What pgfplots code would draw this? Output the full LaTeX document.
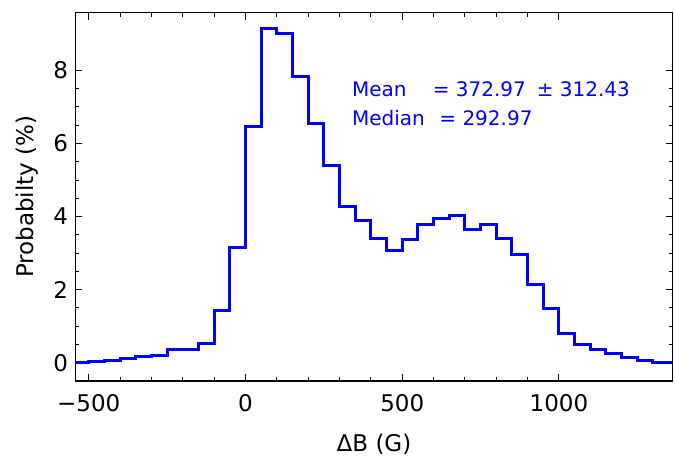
\documentclass[border=0pt]{standalone}
\usepackage{pgfplots}
\pgfplotsset{compat=1.18}
\usepackage{fontspec}
\setmainfont{DejaVu Sans}
\definecolor{hblue}{RGB}{0,0,255}
\begin{document}
\begin{tikzpicture}
\begin{axis}[
 name=ax,
 scale only axis,
 width=597.4pt, height=368.3pt,
 xmin=-543, xmax=1363, ymin=-0.5, ymax=9.58,
 xtick={-500,0,500,1000}, xticklabels={−500,0,500,1000},
 minor x tick num=4,
 ytick={0,2,4,6,8}, yticklabels={0,2,4,6,8},
 minor y tick num=3,
 tick align=inside,
 xtick pos=both, ytick pos=both,
 major tick length=7pt, minor tick length=4pt,
 tick style={black, line width=1pt},
 axis line style={line width=1.2pt},
 tick label style={font=\fontsize{23}{27}\selectfont},
 xticklabel style={anchor=base, yshift=-31pt, inner sep=0pt},
 yticklabel style={anchor=east, inner sep=0pt, xshift=-7pt},
 xlabel={ΔB (G)}, ylabel={Probabilty (\%)},
 label style={font=\fontsize{23}{27}\selectfont, inner sep=0pt},
 xlabel style={at={(axis description cs:0.5,-0.171)}, anchor=center},
 ylabel style={at={(axis description cs:-0.0809,0.5)}, anchor=center},
]
\addplot[hblue, line width=3pt, const plot, mark=none] coordinates {
(-550,0.01) (-500,0.03) (-450,0.07) (-400,0.12) (-350,0.16) (-300,0.21)
(-250,0.35) (-200,0.37) (-150,0.53) (-100,1.44) (-50,3.16) (0,6.46)
(50,9.14) (100,9.00) (150,7.84) (200,6.55) (250,5.39) (300,4.27)
(350,3.90) (400,3.40) (450,3.06) (500,3.36) (550,3.79) (600,3.95)
(650,4.03) (700,3.65) (750,3.79) (800,3.39) (850,2.97) (900,2.15)
(950,1.48) (1000,0.79) (1050,0.51) (1100,0.35) (1150,0.24) (1200,0.14)
(1250,0.07) (1300,0.01) (1400,0.01)
};
\node[anchor=base west, inner sep=0pt, text=hblue, font=\fontsize{20}{24}\selectfont] at (axis cs:339.5,7.28) {Mean};
\node[anchor=base west, inner sep=0pt, text=hblue, font=\fontsize{20}{24}\selectfont] at (axis cs:597.0,7.28) {= 372.97};
\node[anchor=base west, inner sep=0pt, text=hblue, font=\fontsize{20}{24}\selectfont] at (axis cs:928.9,7.28) {± 312.43};
\node[anchor=base west, inner sep=0pt, text=hblue, font=\fontsize{20}{24}\selectfont] at (axis cs:339.5,6.48) {Median};
\node[anchor=base west, inner sep=0pt, text=hblue, font=\fontsize{20}{24}\selectfont] at (axis cs:618.1,6.48) {= 292.97};
\end{axis}
\path ([shift={(-75.3pt,-78pt)}]ax.south west) rectangle ([shift={(2.3pt,12.7pt)}]ax.north east);
\end{tikzpicture}
\end{document}
